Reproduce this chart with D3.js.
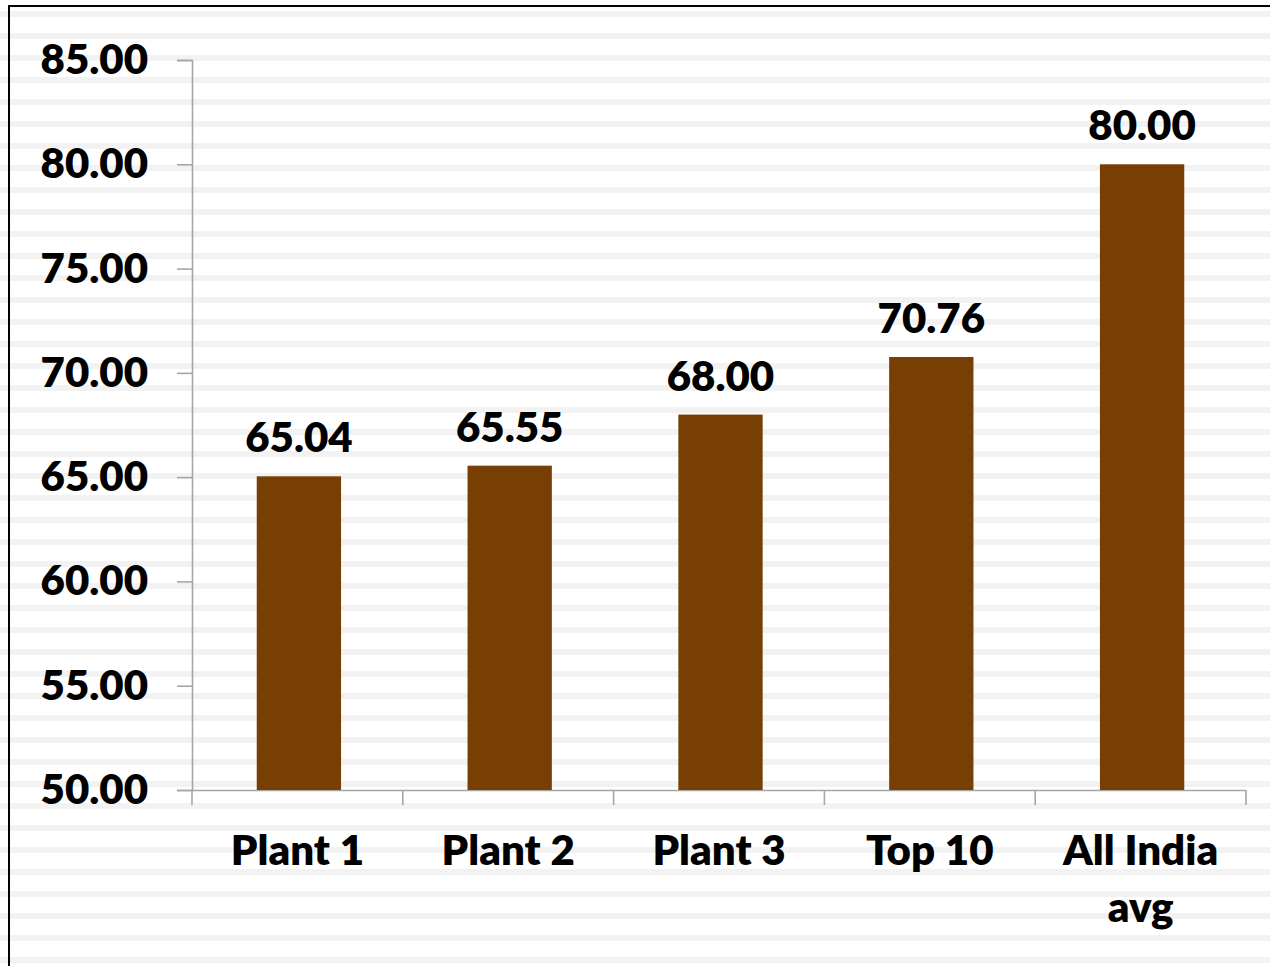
<!DOCTYPE html>
<html>

<head>
    <meta charset="utf-8">
    <style>
        body {
            margin: 0;
            background: #ffffff;
        }

        svg {
            display: block;
            font-family: Lato, 'Open Sans', sans-serif;
            font-weight: 800;
        }
    </style>
</head>

<body>
    <svg width="1270" height="966"></svg>
</body>

<script src="https://d3js.org/d3.v7.min.js"></script>

<script>

    // chart data
    let categories = ["Plant 1", "Plant 2", "Plant 3", "Top 10", "All India avg"]
    let values = [65.04, 65.55, 68.00, 70.76, 80.00]
    let yTicks = [50, 55, 60, 65, 70, 75, 80, 85]

    let width = 1270;
    let height = 966;
    let margin = { top: 60, right: 24, bottom: 176, left: 192 }

    let svg = d3.select("svg")

    // striped page background
    let defs = svg.append("defs")
    let pattern = defs.append("pattern")
        .attr("id", "stripes")
        .attr("patternUnits", "userSpaceOnUse")
        .attr("width", 22)
        .attr("height", 22)
        .attr("y", 11)
    pattern.append("rect")
        .attr("width", 22)
        .attr("height", 22)
        .style("fill", "#ffffff")
    pattern.append("rect")
        .attr("width", 22)
        .attr("height", 6)
        .style("fill", "#f2f2f2")

    svg.append("rect")
        .attr("width", width)
        .attr("height", height)
        .style("fill", "url(#stripes)")

    // frame (only top and left edges are in view)
    svg.append("rect")
        .attr("x", 9)
        .attr("y", 6)
        .attr("width", width + 20)
        .attr("height", height + 20)
        .style("fill", "none")
        .style("stroke", "#000")
        .style("stroke-width", 2)

    let x = d3.scaleBand()
        .domain(categories)
        .range([margin.left, width - margin.right])
        .paddingInner(0.6)
        .paddingOuter(0.3)

    let y = d3.scaleLinear()
        .domain([50, 85])
        .range([height - margin.bottom, margin.top])

    let axisColor = "#a6a6a6"

    // y axis
    let yAxis = svg.append("g")
        .attr("transform", `translate(${margin.left},0)`)
        .call(d3.axisLeft(y)
            .tickValues(yTicks)
            .tickSize(15)
            .tickPadding(29)
            .tickFormat(d3.format(".2f")))

    yAxis.selectAll("path, line")
        .style("stroke", axisColor)
        .style("stroke-width", 1.6)
    yAxis.selectAll("text")
        .style("font-family", "Lato, sans-serif")
        .style("font-weight", 800)
        .style("font-size", "42px")
        .style("fill", "#000")

    // x axis line with ticks between categories
    let step = x.step()
    let x0 = x(categories[0]) - x.paddingOuter() * step
    let bounds = d3.range(categories.length + 1).map(i => x0 + i * step)

    svg.append("line")
        .attr("x1", margin.left)
        .attr("x2", bounds[bounds.length - 1])
        .attr("y1", y(50) + 0.5)
        .attr("y2", y(50) + 0.5)
        .style("stroke", axisColor)
        .style("stroke-width", 1.6)

    svg.selectAll(".xtick")
        .data(bounds)
        .join("line")
        .attr("class", "xtick")
        .attr("x1", d => d)
        .attr("x2", d => d)
        .attr("y1", y(50))
        .attr("y2", y(50) + 15)
        .style("stroke", axisColor)
        .style("stroke-width", 1.6)

    // bars (nudged slightly right of band centre, as in the source)
    svg.selectAll(".bar")
        .data(values)
        .join("rect")
        .attr("class", "bar")
        .attr("x", (d, i) => x(categories[i]) + 1.5)
        .attr("y", d => y(d))
        .attr("width", x.bandwidth())
        .attr("height", d => y(50) - y(d))
        .style("fill", "#783f04")

    // value labels
    svg.selectAll(".value")
        .data(values)
        .join("text")
        .attr("class", "value")
        .attr("x", (d, i) => x(categories[i]) + x.bandwidth() / 2 + 1.5)
        .attr("y", d => y(d) - 24)
        .attr("text-anchor", "middle")
        .style("font-size", "42px")
        .style("fill", "#000")
        .text(d => d3.format(".2f")(d))

    // category labels, wrapped to the band step
    let catLabels = svg.selectAll(".cat")
        .data(categories)
        .join("text")
        .attr("class", "cat")
        .attr("x", d => x(d) + x.bandwidth() / 2)
        .attr("y", 865)
        .attr("text-anchor", "middle")
        .style("font-size", "42px")
        .style("fill", "#000")

    catLabels.each(function (d) {
        let text = d3.select(this)
        let cx = text.attr("x")
        let words = d.split(" ")
        let line = []
        let tspan = text.append("tspan").attr("x", cx).attr("dy", 0)
        words.forEach(w => {
            line.push(w)
            tspan.text(line.join(" "))
            if (tspan.node().getComputedTextLength() > step - 10 && line.length > 1) {
                line.pop()
                tspan.text(line.join(" "))
                line = [w]
                tspan = text.append("tspan").attr("x", cx).attr("dy", 57).text(w)
            }
        })
    })

</script>

</html>
